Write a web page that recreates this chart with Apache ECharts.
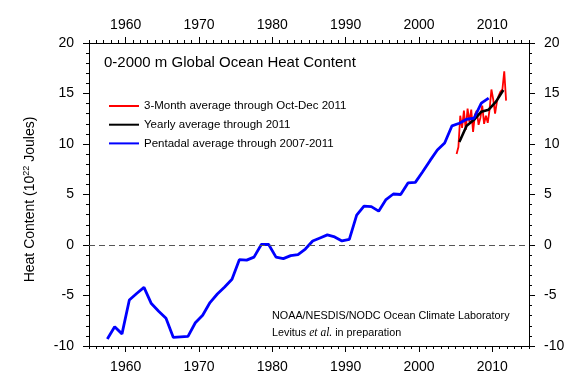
<!DOCTYPE html>
<html><head><meta charset="utf-8">
<script src="https://cdn.jsdelivr.net/npm/echarts@6/dist/echarts.min.js"></script>
<style>html,body{margin:0;padding:0;background:#fff}#c{width:569px;height:382px}</style>
</head><body><div id="c"></div>
<script>
const pentadYears = [1957.5,1958.5,1959.5,1960.5,1961.5,1962.5,1963.5,1964.5,1965.5,1966.5,1967.5,1968.5,1969.5,1970.5,1971.5,1972.5,1973.5,1974.5,1975.5,1976.5,1977.5,1978.5,1979.5,1980.5,1981.5,1982.5,1983.5,1984.5,1985.5,1986.5,1987.5,1988.5,1989.5,1990.5,1991.5,1992.5,1993.5,1994.5,1995.5,1996.5,1997.5,1998.5,1999.5,2000.5,2001.5,2002.5,2003.5,2004.5,2005.5,2006.5,2007.5,2008.5,2009.5];
const pentadValues = [-9.3,-8.1,-8.8,-5.45,-4.8,-4.2,-5.8,-6.55,-7.25,-9.15,-9.1,-9.05,-7.7,-6.95,-5.7,-4.85,-4.15,-3.4,-1.45,-1.5,-1.2,0.05,0.05,-1.2,-1.35,-1.05,-0.95,-0.4,0.4,0.7,1.0,0.8,0.4,0.55,2.95,3.85,3.8,3.35,4.5,5.05,5.0,6.15,6.2,7.25,8.35,9.4,10.1,11.8,12.05,12.45,12.55,14.05,14.55];
const yearlyYears = [2005.5,2006.5,2007.5,2008.5,2009.5,2010.5,2011.5];
const yearlyValues = [10.2,11.8,12.4,13.2,13.4,14.2,15.35];
const quarterYears = [2005.125,2005.375,2005.625,2005.875,2006.125,2006.375,2006.625,2006.875,2007.125,2007.375,2007.625,2007.875,2008.125,2008.375,2008.625,2008.875,2009.125,2009.375,2009.625,2009.875,2010.125,2010.375,2010.625,2010.875,2011.125,2011.375,2011.625,2011.875];
const quarterValues = [9.0,9.7,12.8,11.6,13.3,11.4,13.5,12.2,13.4,11.2,12.9,13.3,11.9,12.6,13.8,12.0,12.8,12.1,13.4,15.4,14.4,13.0,14.2,14.8,15.2,15.4,17.2,14.3];
const xMajorTicks = [1960,1970,1980,1990,2000,2010];
const seriesNames = ['3-Month average through Oct-Dec 2011','Yearly average through 2011','Pentadal average through 2007-2011'];
const titleText = '0-2000 m Global Ocean Heat Content';
const creditLine1 = 'NOAA/NESDIS/NODC Ocean Climate Laboratory';

const FONT = '"Liberation Sans", Arial, Helvetica, sans-serif';
const zip = (xs, ys) => xs.map((x, i) => [x, ys[i]]);

const chart = echarts.init(document.getElementById('c'), null, {renderer: 'canvas'});

function xAxisBase(pos, withLabels) {
  return {
    type: 'value', position: pos, min: 1955, max: 2015, interval: 1,
    axisLine: {show: true, onZero: false, lineStyle: {color: '#000', width: 1}},
    axisTick: {show: true, interval: 0, length: 3, lineStyle: {color: '#000', width: 1}},
    axisLabel: {show: withLabels, customValues: xMajorTicks, margin: pos === 'top' ? 11 : 14,
      formatter: v => String(v),
      fontSize: 14, fontFamily: FONT, color: '#000'},
    splitLine: {show: false}
  };
}
function xAxisMajor(pos) {
  return {
    type: 'value', position: pos, min: 1955, max: 2015,
    axisLine: {show: false, onZero: false},
    axisTick: {show: true, length: 6, customValues: xMajorTicks, lineStyle: {color: '#000', width: 1}},
    axisLabel: {show: false},
    splitLine: {show: false}
  };
}
function yAxisBase(pos) {
  return {
    type: 'value', position: pos, min: -10, max: 20, interval: 5,
    axisLine: {show: true, onZero: false, lineStyle: {color: '#000', width: 1}},
    axisTick: {show: true, length: 6, lineStyle: {color: '#000', width: 1}},
    minorTick: {show: true, splitNumber: 5, length: 3, lineStyle: {color: '#000', width: 1}},
    axisLabel: {show: true, margin: 15, fontSize: 14, fontFamily: FONT, color: '#000'},
    splitLine: {show: false}
  };
}

const yLeft = yAxisBase('left');
yLeft.name = 'Heat Content (10{sup|22} Joules)';
yLeft.nameLocation = 'middle';
yLeft.nameRotate = 90;
yLeft.nameGap = 50;
yLeft.nameTextStyle = {fontSize: 14, fontFamily: FONT, color: '#000', padding: [0, 10, 0, 0],
  rich: {sup: {fontSize: 9, fontFamily: FONT, color: '#000', padding: [0, 0, 8, 0]}}};

const option = {
  animation: false,
  backgroundColor: '#fff',
  grid: {left: 89, right: 40, top: 43, bottom: 36, containLabel: false},
  xAxis: [xAxisBase('bottom', true), xAxisMajor('bottom'), xAxisBase('top', true), xAxisMajor('top')],
  yAxis: [yLeft, yAxisBase('right')],
  legend: {
    orient: 'vertical', left: 104, top: 94, itemWidth: 30, itemHeight: 2, icon: 'rect', itemGap: 4.7,
    textStyle: {fontSize: 11.5, lineHeight: 14, fontFamily: FONT, color: '#000'},
    data: seriesNames
  },
  graphic: [
    {type: 'text', left: 104, top: 55, style: {text: titleText, font: '15px ' + FONT, fill: '#000'}},
    {type: 'text', left: 272, top: 311, style: {text: creditLine1, font: '10.8px ' + FONT, fill: '#000'}},
    {type: 'text', left: 272, top: 327, style: {
      text: '{a|Levitus }{b|et al.}{a| in preparation}',
      rich: {
        a: {fontSize: 10.8, fontFamily: FONT, fill: '#000'},
        b: {fontSize: 11.5, fontFamily: '"Liberation Serif", "Times New Roman", serif', fontStyle: 'italic', fill: '#000'}
      }
    }}
  ],
  series: [
    {name: seriesNames[0], type: 'line', xAxisIndex: 0, yAxisIndex: 0, data: zip(quarterYears, quarterValues),
      showSymbol: false, symbol: 'none', color: '#ff0000', lineStyle: {color: '#ff0000', width: 1.8}, z: 2},
    {name: seriesNames[1], type: 'line', xAxisIndex: 0, yAxisIndex: 0, data: zip(yearlyYears, yearlyValues),
      showSymbol: false, symbol: 'none', color: '#000000', lineStyle: {color: '#000000', width: 2.6}, z: 3},
    {name: seriesNames[2], type: 'line', xAxisIndex: 0, yAxisIndex: 0, data: zip(pentadYears, pentadValues),
      showSymbol: false, symbol: 'none', color: '#0000ff', lineStyle: {color: '#0000ff', width: 2.8}, z: 4,
      markLine: {silent: true, symbol: ['none', 'none'], label: {show: false},
        lineStyle: {type: [6, 4], color: '#555', width: 1},
        data: [{yAxis: 0}]}}
  ]
};
chart.setOption(option);
</script>
</body></html>
